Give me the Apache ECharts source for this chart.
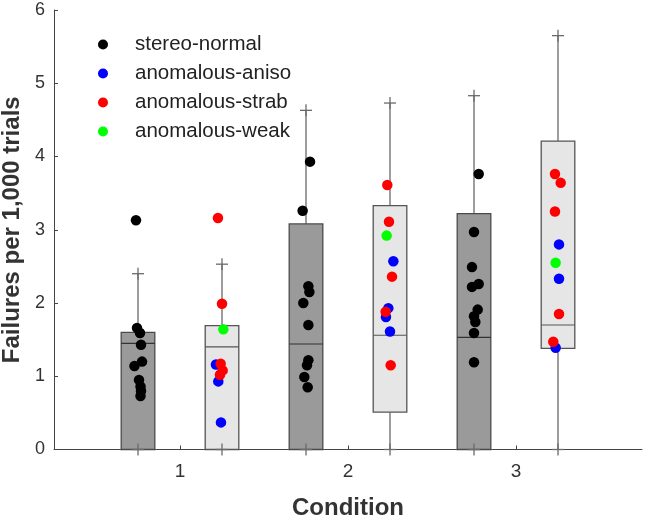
<!DOCTYPE html>
<html>
<head>
<meta charset="utf-8">
<script src="https://cdn.jsdelivr.net/npm/echarts@6/dist/echarts.min.js"></script>
<style>html,body{margin:0;padding:0;background:#fff}#c{width:645px;height:517px}</style>
</head>
<body>
<div id="c"></div>
<script>
// ---- data ----
const conditions = [1, 2, 3];
const xTickLabels = ['1', '2', '3'];
const yTicks = [0, 1, 2, 3, 4, 5, 6];

// box statistics (stereo-normal group, dark boxes)
const normalLow = [0, 0, 0];
const normalQ1 = [0, 0, 0];
const normalMedian = [1.45, 1.44, 1.53];
const normalQ3 = [1.60, 3.08, 3.22];
const normalHigh = [2.40, 4.63, 4.83];

// box statistics (anomalous group, light boxes)
const anomLow = [0, 0, 0];
const anomQ1 = [0, 0.51, 1.38];
const anomMedian = [1.40, 1.56, 1.70];
const anomQ3 = [1.69, 3.33, 4.21];
const anomHigh = [2.53, 4.73, 5.65];

// individual observers per condition
const normalVals = [
  [3.13, 1.66, 1.59, 1.43, 1.20, 1.14, 0.95, 0.86, 0.80, 0.73],
  [3.93, 3.26, 2.23, 2.15, 2.00, 1.70, 1.22, 1.15, 0.99, 0.85],
  [3.76, 2.97, 2.49, 2.26, 2.22, 1.91, 1.82, 1.74, 1.59, 1.19]
];
const normalJitter = [
  [-0.012, -0.006, 0.012, 0.018, 0.024, -0.021, 0.006, 0.015, 0.018, 0.015],
  [0.024, -0.020, 0.014, 0.020, -0.016, 0.014, 0.014, 0.006, -0.010, 0.010],
  [0.028, 0, -0.012, 0.028, -0.012, 0.022, 0, 0.008, 0, 0]
];
const anisoVals = [[1.16, 0.93, 0.37], [2.57, 1.93, 1.81, 1.61], [2.80, 2.33, 1.39]];
const anisoJitter = [[-0.036, -0.022, -0.006], [0.020, -0.010, -0.024, 0], [0.006, 0.006, -0.014]];
const strabVals = [[3.16, 1.99, 1.17, 1.08, 1.02], [3.61, 3.11, 2.36, 1.88, 1.15], [3.76, 3.64, 3.25, 1.85, 1.47]];
const strabJitter = [[-0.024, 0, -0.008, 0.004, -0.012], [-0.016, -0.006, 0.012, -0.026, 0.004], [-0.018, 0.016, -0.018, 0.006, -0.028]];
const weakVals = [[1.64], [2.92], [2.55]];
const weakJitter = [[0.008], [-0.020], [-0.014]];

const seriesNames = ['stereo-normal', 'anomalous-aniso', 'anomalous-strab', 'anomalous-weak'];

// ---- layout / style ----
const OFFSET = 0.25, BOX_W = 0.2;
const FONT = '"Liberation Sans", Arial, sans-serif';

function boxData(c, lo, q1, med, q3, hi, off) {
  return c.map((x, i) => [x + off, lo[i], q1[i], med[i], q3[i], hi[i]]);
}
function pts(vals, jit, off) {
  const out = [];
  conditions.forEach((x, i) => vals[i].forEach((v, j) => out.push([x + off + jit[i][j], v])));
  return out;
}

function boxRender(fill, edge, medColor) {
  return function (params, api) {
    const x = api.value(0);
    const lo = api.coord([x, api.value(1)]);
    const q1 = api.coord([x, api.value(2)]);
    const md = api.coord([x, api.value(3)]);
    const q3 = api.coord([x, api.value(4)]);
    const hi = api.coord([x, api.value(5)]);
    const w = api.size([BOX_W, 0])[0];
    const cx = q1[0];
    const lineStyle = { stroke: '#6a6a6a', lineWidth: 1.3 };
    const cap = 6;
    const children = [
      { type: 'line', shape: { x1: cx, y1: q3[1], x2: cx, y2: hi[1] }, style: lineStyle },
      { type: 'line', shape: { x1: cx, y1: q1[1], x2: cx, y2: lo[1] }, style: lineStyle },
      { type: 'rect', shape: { x: cx - w / 2, y: q3[1], width: w, height: q1[1] - q3[1] },
        style: { fill: fill, stroke: edge, lineWidth: 1.3 } },
      { type: 'line', shape: { x1: cx - w / 2, y1: md[1], x2: cx + w / 2, y2: md[1] },
        style: { stroke: medColor, lineWidth: 1.2 } },
      { type: 'line', shape: { x1: cx - cap, y1: hi[1], x2: cx + cap, y2: hi[1] }, style: lineStyle },
      { type: 'line', shape: { x1: cx, y1: hi[1] - cap, x2: cx, y2: hi[1] + cap }, style: lineStyle },
      { type: 'line', shape: { x1: cx - cap, y1: lo[1], x2: cx + cap, y2: lo[1] }, style: lineStyle },
      { type: 'line', shape: { x1: cx, y1: lo[1] - cap, x2: cx, y2: lo[1] + cap }, style: lineStyle }
    ];
    return { type: 'group', children: children };
  };
}

const chart = echarts.init(document.getElementById('c'), null, { renderer: 'canvas' });
const dot = 10.5;
chart.setOption({
  animation: false,
  backgroundColor: '#fff',
  grid: { left: 54, right: 3, top: 10, bottom: 67.5, containLabel: false, outerBoundsMode: 'none' },
  legend: {
    data: seriesNames,
    orient: 'vertical',
    left: 93, top: 29,
    icon: 'circle',
    itemWidth: 10, itemHeight: 10, itemGap: 8,
    textStyle: { fontFamily: FONT, fontSize: 20.5, color: '#222', lineHeight: 20, padding: [0, 0, 0, 22] },
    selectedMode: false
  },
  xAxis: {
    type: 'value', min: 0.25, max: 3.75,
    splitLine: { show: false },
    axisLine: { show: true, onZero: false, lineStyle: { color: '#444', width: 1 } },
    axisTick: { show: true, inside: true, length: 4, customValues: conditions, lineStyle: { color: '#444' } },
    axisLabel: { customValues: conditions, formatter: v => xTickLabels[conditions.indexOf(Math.round(v))] || '',
      fontFamily: FONT, fontSize: 19, color: '#333', margin: 13 },
    name: 'Condition', nameLocation: 'middle', nameGap: 47,
    nameTextStyle: { fontFamily: FONT, fontSize: 24, fontWeight: 'bold', color: '#333' }
  },
  yAxis: {
    type: 'value', min: yTicks[0], max: yTicks[yTicks.length - 1], interval: 1,
    splitLine: { show: false },
    axisLine: { show: true, lineStyle: { color: '#444', width: 1 } },
    axisTick: { show: true, inside: true, length: 4, lineStyle: { color: '#444' } },
    axisLabel: { fontFamily: FONT, fontSize: 18, color: '#333', margin: 9 },
    name: 'Failures per 1,000 trials', nameLocation: 'middle', nameGap: 27,
    nameTextStyle: { fontFamily: FONT, fontSize: 24, fontWeight: 'bold', color: '#333' }
  },
  series: [
    { type: 'custom', name: 'box-normal', renderItem: boxRender('#9a9a9a', '#4a4a4a', '#333'),
      data: boxData(conditions, normalLow, normalQ1, normalMedian, normalQ3, normalHigh, -OFFSET),
      encode: { x: 0, y: [1, 2, 3, 4, 5] }, z: 1, silent: true },
    { type: 'custom', name: 'box-anom', renderItem: boxRender('#e6e6e6', '#555', '#555'),
      data: boxData(conditions, anomLow, anomQ1, anomMedian, anomQ3, anomHigh, OFFSET),
      encode: { x: 0, y: [1, 2, 3, 4, 5] }, z: 1, silent: true },
    { type: 'scatter', name: seriesNames[0], data: pts(normalVals, normalJitter, -OFFSET),
      symbolSize: dot, itemStyle: { color: '#000', opacity: 1 }, z: 3 },
    { type: 'scatter', name: seriesNames[1], data: pts(anisoVals, anisoJitter, OFFSET),
      symbolSize: dot, itemStyle: { color: '#0000ff', opacity: 1 }, z: 3 },
    { type: 'scatter', name: seriesNames[2], data: pts(strabVals, strabJitter, OFFSET),
      symbolSize: dot, itemStyle: { color: '#ff0000', opacity: 1 }, z: 4 },
    { type: 'scatter', name: seriesNames[3], data: pts(weakVals, weakJitter, OFFSET),
      symbolSize: dot, itemStyle: { color: '#00ff00', opacity: 1 }, z: 5 }
  ]
});
</script>
</body>
</html>
